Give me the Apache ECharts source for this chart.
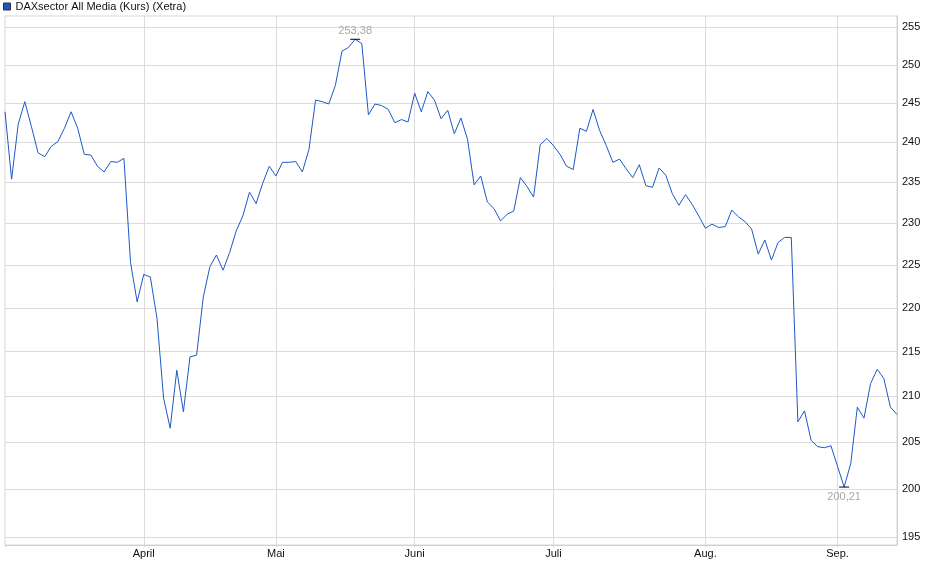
<!DOCTYPE html>
<html>
<head>
    <meta charset="utf-8">
    <title>DAXsector All Media</title>
    <script src="https://cdn.jsdelivr.net/npm/echarts@6/dist/echarts.min.js"></script>
    <style>
        html, body { margin: 0; padding: 0; background: #fff; }
        #main { width: 940px; height: 579px; }
    </style>
</head>
<body>
<div id="main"></div>
<script type="text/javascript">
    // Handelstage 2025 (Xetra), je Monat
    var marchDays = [3, 4, 5, 6, 7, 10, 11, 12, 13, 14, 17, 18, 19, 20, 21, 24, 25, 26, 27, 28, 31];
    var aprilDays = [1, 2, 3, 4, 7, 8, 9, 10, 11, 14, 15, 16, 17, 22, 23, 24, 25, 28, 29, 30];
    var mayDays = [2, 5, 6, 7, 8, 9, 12, 13, 14, 15, 16, 19, 20, 21, 22, 23, 26, 27, 28, 29, 30];
    var juneDays = [2, 3, 4, 5, 6, 9, 10, 11, 12, 13, 16, 17, 18, 19, 20, 23, 24, 25, 26, 27, 30];
    var julyDays = [1, 2, 3, 4, 7, 8, 9, 10, 11, 14, 15, 16, 17, 18, 21, 22, 23, 24, 25, 28, 29, 30, 31];
    var augDays = [1, 4, 5, 6, 7, 8, 11, 12, 13, 14, 18, 19, 20, 21, 22, 25, 26, 27, 28, 29];
    var sepDays = [1, 2, 3, 4, 5, 8, 9, 10, 11, 12];

    var monthDays = [marchDays, aprilDays, mayDays, juneDays, julyDays, augDays, sepDays];
    var monthLabels = ['', 'April', 'Mai', 'Juni', 'Juli', 'Aug.', 'Sep.'];

    // Kurs (Schlusswerte)
    var kurs = [
        243.9, 235.4, 242.3, 245.2, 242.0, 238.7, 238.2, 239.5, 240.1, 241.8,
        243.9, 241.8, 238.5, 238.4, 237.0, 236.3, 237.6, 237.5, 238.0, 225.3,
        220.7, 223.9, 223.6, 218.8, 209.8, 206.5, 212.9, 208.3, 214.4, 214.6,
        221.2, 224.8, 226.2, 224.4, 226.5, 229.1, 230.9, 233.8, 232.4, 234.9,
        237.0, 235.8, 237.5, 237.5, 237.6, 236.3, 239.1, 245.4, 245.2, 244.9,
        247.3, 251.8, 252.3, 253.38, 252.8, 243.5, 244.9, 244.7, 244.2, 242.5,
        242.9, 242.6, 246.3, 243.9, 246.5, 245.4, 243.0, 244.1, 241.1, 243.1,
        240.4, 234.7, 235.8, 232.6, 231.8, 230.3, 231.1, 231.5, 235.6, 234.5,
        233.2, 239.7, 240.5, 239.6, 238.5, 237.0, 236.6, 241.8, 241.4, 244.2,
        241.5, 239.6, 237.5, 237.9, 236.7, 235.6, 237.2, 234.6, 234.4, 236.8,
        235.9, 233.6, 232.2, 233.5, 232.3, 230.9, 229.4, 229.9, 229.5, 229.6,
        231.6, 230.8, 230.2, 229.3, 226.3, 228.0, 225.6, 227.7, 228.3, 228.3,
        207.2, 208.4, 205.2, 204.5, 204.4, 204.6, 202.4, 200.21, 202.7, 208.8,
        207.6, 211.4, 213.0, 212.0, 208.8, 208.0
    ];

    var yTicks = [195, 200, 205, 210, 215, 220, 225, 230, 235, 240, 245, 250, 255];

    // Kategorien und Monatsanfaenge aufbauen
    var dates = [];
    var monthStart = {};
    monthDays.forEach(function (days, m) {
        days.forEach(function (d, i) {
            var label = (d < 10 ? '0' + d : d) + '.' + (m + 3 < 10 ? '0' + (m + 3) : (m + 3)) + '.2025';
            if (i === 0 && m > 0) {
                monthStart[dates.length] = monthLabels[m];
            }
            dates.push(label);
        });
    });

    function isMonthStart(index) {
        return monthStart[index] !== undefined;
    }

    function fmt(v) {
        return v.toFixed(2).replace('.', ',');
    }

    var myChart = echarts.init(document.getElementById('main'));

    var font = 'Liberation Sans, Arial, sans-serif';

    var option = {
        animation: false,
        textStyle: {fontFamily: font},
        legend: {
            left: 3,
            top: 1,
            padding: 0,
            icon: 'rect',
            itemWidth: 7,
            itemHeight: 7,
            itemGap: 5,
            itemStyle: {borderColor: '#333', borderWidth: 1},
            textStyle: {fontSize: 11, color: '#111', fontFamily: font, padding: [0, 0, 0, 0]},
            data: ['DAXsector All Media (Kurs) (Xetra)']
        },
        grid: {
            left: 5,
            right: 43,
            top: 16,
            bottom: 34,
            show: true,
            borderColor: '#d6d6d6',
            borderWidth: 1
        },
        xAxis: {
            type: 'category',
            boundaryGap: false,
            data: dates,
            axisLine: {lineStyle: {color: '#d0d0d0'}},
            axisTick: {
                interval: function (index) {
                    return index === 0 || isMonthStart(index);
                },
                length: 2,
                lineStyle: {color: '#d0d0d0'}
            },
            axisLabel: {
                interval: function (index) {
                    return isMonthStart(index);
                },
                formatter: function (value, index) {
                    return monthStart[index] || '';
                },
                fontSize: 11,
                color: '#111',
                margin: 3,
                fontFamily: font
            },
            splitLine: {
                show: true,
                interval: function (index) {
                    return isMonthStart(index);
                },
                lineStyle: {color: '#dcdcdc', width: 1}
            }
        },
        yAxis: {
            type: 'log',
            position: 'right',
            min: 194.2,
            max: 256.5,
            axisLine: {show: true, lineStyle: {color: '#d0d0d0'}},
            axisTick: {show: false, customValues: yTicks},
            axisLabel: {
                customValues: yTicks,
                fontSize: 11,
                color: '#111',
                margin: 5,
                fontFamily: font
            },
            splitLine: {show: true, lineStyle: {color: '#dcdcdc', width: 1}}
        },
        series: [
            {
                name: 'DAXsector All Media (Kurs) (Xetra)',
                type: 'line',
                data: kurs,
                symbol: 'none',
                color: '#1c58c7',
                lineStyle: {width: 1, color: '#1c58c7'},
                markPoint: {
                    symbol: 'rect',
                    symbolSize: [10, 1],
                    itemStyle: {color: '#000'},
                    label: {
                        fontSize: 11,
                        color: '#a8a8a8',
                        fontFamily: font,
                        formatter: function (p) {
                            return fmt(p.value);
                        }
                    },
                    data: [
                        {type: 'max', label: {position: 'top', distance: 2}},
                        {type: 'min', label: {position: 'bottom', distance: 4}}
                    ]
                }
            }
        ]
    };

    myChart.setOption(option);
</script>
</body>
</html>
